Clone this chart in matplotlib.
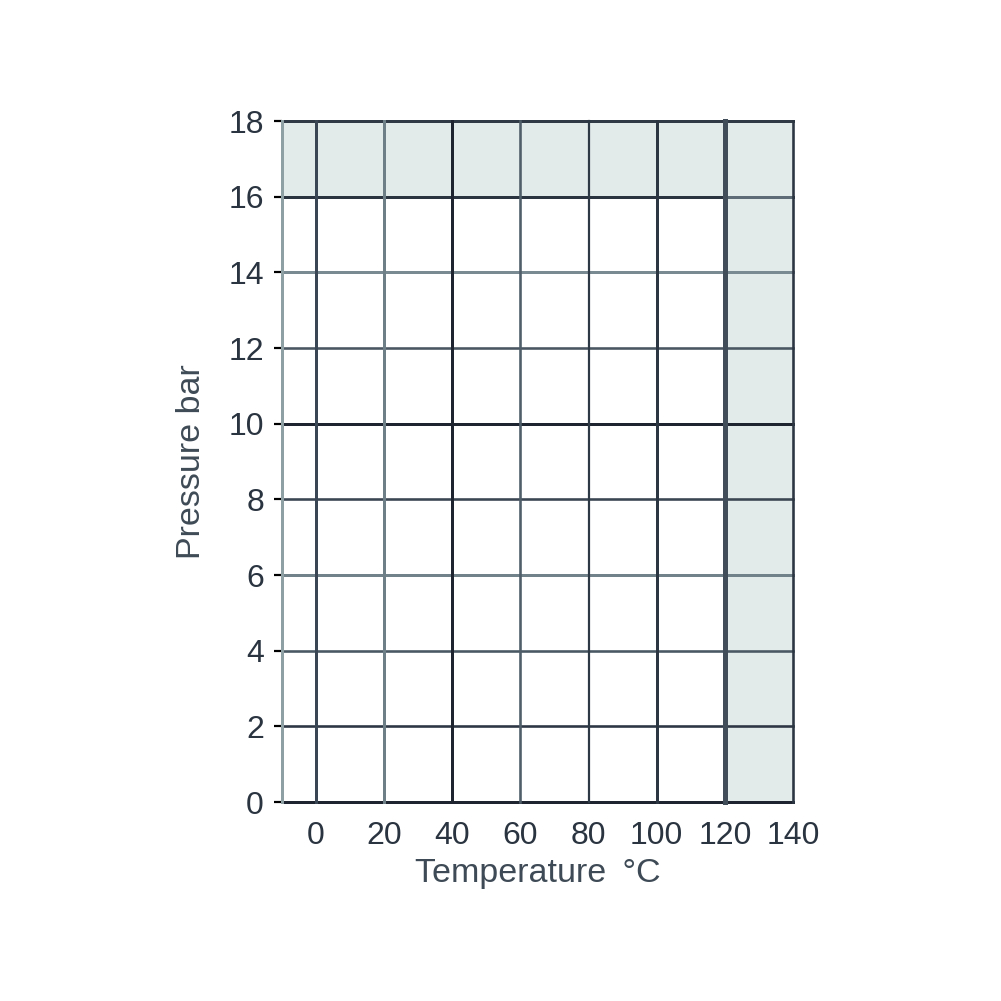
import matplotlib
matplotlib.use("Agg")
import matplotlib.pyplot as plt

# Data
x_ticks = [0, 20, 40, 60, 80, 100, 120, 140]
y_ticks = [0, 2, 4, 6, 8, 10, 12, 14, 16, 18]
x_min, x_max = -10, 140
y_min, y_max = 0, 18
max_pressure = 16
max_temperature = 120

# Styles
fill_col = "#e3eaea"
text_col = "#2a3440"
label_col = "#3e4a55"
v_colors = ["#3a4653", "#6e7f88", "#1e2530", "#4f5e69", "#2e3946", "#2c3643", "#414d59", "#2c3643"]
v_widths = [3, 3, 3, 2.6, 2.2, 3, 5, 2.6]
h_colors = ["#1e2530", "#2c3644", "#4a5864", "#72828b", "#3a4652", "#1e2530", "#4a5762", "#7a8a92", "#2a3440", "#2f3a46"]
h_widths = [3, 2.6, 2.6, 3, 2.6, 3, 2.6, 3, 3, 3]

plt.rcParams['font.family'] = ['Liberation Sans', 'DejaVu Sans']

fig = plt.figure(figsize=(10.01, 10.01), dpi=100)
ax = fig.add_axes([0.2817, 0.1988, 0.7922 - 0.2817, 0.879 - 0.1988])
ax.set_xlim(x_min, x_max)
ax.set_ylim(y_min, y_max)

# shaded regions
ax.axhspan(max_pressure, y_max, color=fill_col, lw=0, zorder=0)
ax.axvspan(max_temperature, x_max, color=fill_col, lw=0, zorder=0)

px = 72 / 100.0
for y, c, w in zip(y_ticks, h_colors, h_widths):
    ax.axhline(y, color=c, lw=w * px, zorder=2, clip_on=False)
# lighter part of 16 line right of 120
ax.plot([max_temperature, x_max], [max_pressure, max_pressure], color="#5d6c76", lw=3 * px, zorder=2.5)
for x, c, w in zip(x_ticks, v_colors, v_widths):
    ax.axvline(x, color=c, lw=w * px, zorder=3, clip_on=False)

for s in ax.spines.values():
    s.set_visible(False)
ax.axvline(x_min, color="#8fa0a5", lw=3 * px, zorder=3, clip_on=False)

ax.set_xticks(x_ticks)
ax.set_yticks(y_ticks)
ax.tick_params(axis='x', length=0, pad=14, labelsize=23, labelcolor=text_col)
ax.tick_params(axis='y', length=6, width=2.2 * px, pad=7, labelsize=23, labelcolor=text_col)
for t, c in zip(ax.yaxis.get_major_ticks(), h_colors):
    t.tick1line.set_color(c)

ax.set_xlabel("Temperature \u2009\u00b0C", fontsize=24.5, color=label_col, labelpad=5)
ax.set_ylabel("Pressure bar", fontsize=24.5, color=label_col, labelpad=15)

fig.savefig("out.png", dpi=100, facecolor="white")
